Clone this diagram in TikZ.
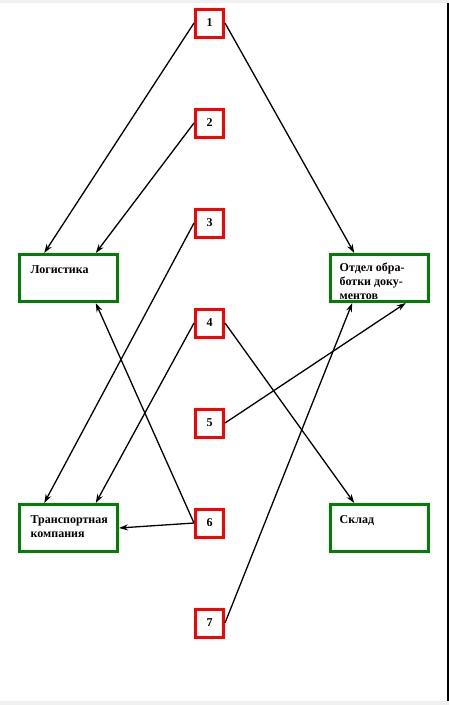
\documentclass[tikz,border=0pt]{standalone}
\usepackage{fontspec}
\setmainfont{Liberation Serif}
\usetikzlibrary{arrows.meta, positioning, calc}
\definecolor{zelen}{HTML}{008000}
\definecolor{krasn}{HTML}{FF0000}

\begin{document}
\begin{tikzpicture}[x=1pt, y=-1pt,
    num/.style={draw=krasn, line width=3pt, minimum size=28pt, inner sep=0pt,
      font=\bfseries\fontsize{12}{13}\selectfont},
    otdbox/.style={draw=zelen, line width=3pt, minimum width=98pt, minimum height=47pt, inner sep=0pt},
    txt/.style={inner sep=0pt, align=left, font=\bfseries\fontsize{12}{14}\selectfont},
    str/.style={-{Stealth[length=9pt,width=6pt]}, line width=1.3pt}]
  \useasboundingbox (0,0) rectangle (449,705);
  % frame of the page
  \fill[gray!12] (0,0) rectangle (449,3);
  \fill[gray!12] (0,701) rectangle (449,705);
  \draw[line width=2pt] (448,3) -- (448,701);

  % numbered steps
  \foreach \i in {1,...,7}
    \node[num] (n\i) at (209.5, {23+100*(\i-1)}) {\i};

  % departments
  \node[otdbox] (log) at (68.5,278) {};
  \node[otdbox] (otd) at (379.5,278) {};
  \node[otdbox] (tr) at (68.5,528) {};
  \node[otdbox] (sk) at (379.5,528) {};
  \node[txt, below right=12pt and 12.5pt of log.north west] (logt) {Логистика};
  \node[txt, below right=10pt and 10.5pt of otd.north west] (otdt) {Отдел обра-\\ботки доку-\\ментов};
  \node[txt, below right=12pt and 12.5pt of tr.north west] (trt) {Транспортная\\компания};
  \node[txt, below right=12pt and 10.5pt of sk.north west] (skt) {Склад};

  % flows
  \draw[str] (n1.west) -- ($(log.north west)!0.26!(log.north east)$);
  \draw[str] (n1.east) -- ($(otd.north west)!0.25!(otd.north east)$);
  \draw[str] (n2.west) -- ($(log.north west)!0.77!(log.north east)$);
  \draw[str] (n3.west) -- ($(tr.north west)!0.26!(tr.north east)$);
  \draw[str] (n4.west) -- ($(tr.north west)!0.77!(tr.north east)$);
  \draw[str] (n4.east) -- ($(sk.north west)!0.25!(sk.north east)$);
  \draw[str] (n5.east) -- ($(otd.south west)!0.76!(otd.south east)$);
  \draw[str] (n6.west) -- ($(log.south west)!0.77!(log.south east)$);
  \draw[str] (n6.west) -- (tr.east);
  \draw[str] (n7.east) -- ($(otd.south west)!0.23!(otd.south east)$);
\end{tikzpicture}
\end{document}
